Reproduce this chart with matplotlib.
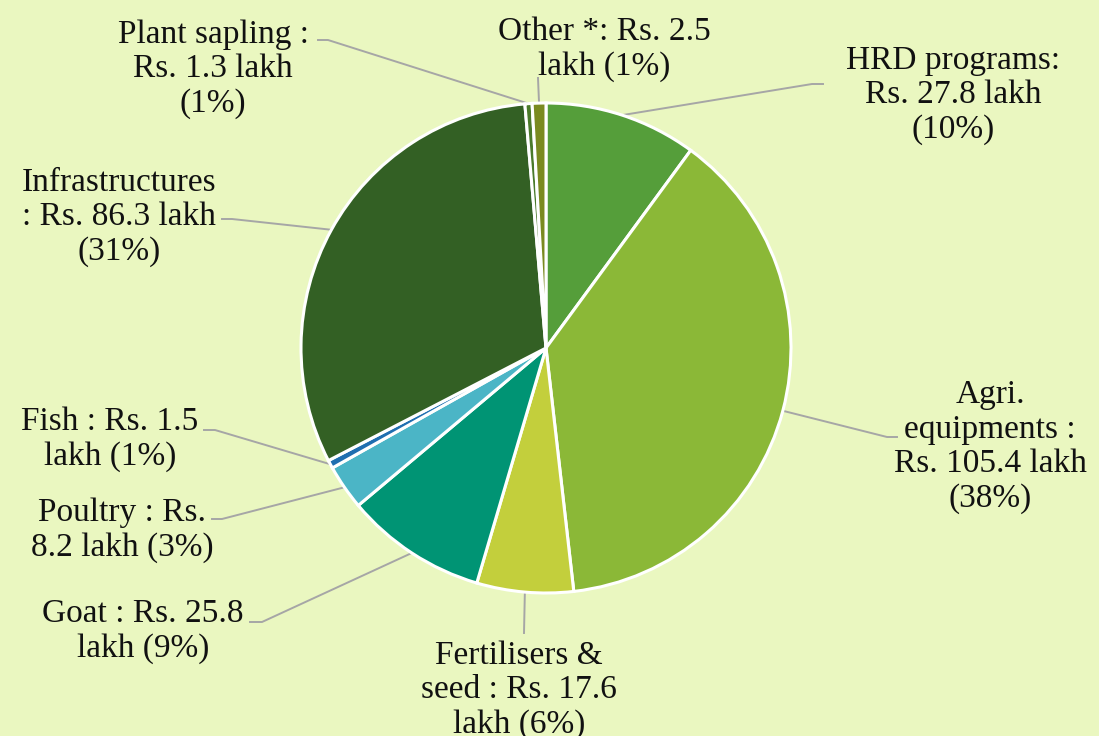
import numpy as np
import matplotlib.pyplot as plt

# --- data ---
categories = ['HRD programs:', 'Agri. equipments :', 'Fertilisers & seed :', 'Goat :',
              'Poultry :', 'Fish :', 'Infrastructures', 'Plant sapling :', 'Other *:']
values = [27.8, 105.4, 17.6, 25.8, 8.2, 1.5, 86.3, 1.3, 2.5]
labels = [
    'HRD programs:\nRs. 27.8 lakh\n(10%)',
    'Agri.\nequipments :\nRs. 105.4 lakh\n(38%)',
    'Fertilisers &\nseed : Rs. 17.6\nlakh (6%)',
    'Goat : Rs. 25.8\nlakh (9%)',
    'Poultry : Rs.\n8.2 lakh (3%)',
    'Fish : Rs. 1.5\nlakh (1%)',
    'Infrastructures\n: Rs. 86.3 lakh\n(31%)',
    'Plant sapling :\nRs. 1.3 lakh\n(1%)',
    'Other *: Rs. 2.5\nlakh (1%)',
]
colors = ['#559E3A', '#8BB837', '#C3CF3C', '#009474', '#4BB5C6',
          '#1F6EB0', '#336024', '#4A7A2A', '#7A8A20']

# label layout in image pixels: text centre, then leader line points (elbow, end)
text_pos = [(953, 95), (990, 447), (519, 690), (143, 631), (122, 530),
            (110, 439), (119, 217), (213, 69), (604, 49)]
leader = [
    [(812, 84), (823, 84)],
    [(887, 437), (897, 437)],
    [(524, 633)],
    [(262, 622), (250, 622)],
    [(222, 519), (212, 519)],
    [(215, 430), (204, 430)],
    [(232, 219), (222, 219)],
    [(328, 40), (318, 40)],
    [(538, 78)],
]

W, H = 1099, 736
cx, cy, R = 546, 348, 245


def px(p):
    return p[0], H - p[1]


fig = plt.figure(figsize=(W / 100, H / 100), dpi=100)
fig.patch.set_facecolor('#EAF7C0')
ax = fig.add_axes([0, 0, 1, 1])

wedges, _ = ax.pie(values, colors=colors, startangle=90, counterclock=False,
                   center=px((cx, cy)), radius=R, frame=True,
                   wedgeprops=dict(edgecolor='white', linewidth=2.2))
ax.set_xlim(0, W)
ax.set_ylim(0, H)
ax.set_aspect('equal')
ax.axis('off')

for w, lab, tp, pts in zip(wedges, labels, text_pos, leader):
    mid = np.deg2rad((w.theta1 + w.theta2) / 2)
    x0 = cx + R * np.cos(mid)
    y0 = (H - cy) + R * np.sin(mid)
    xs = [x0] + [p[0] for p in pts]
    ys = [y0] + [H - p[1] for p in pts]
    ax.plot(xs, ys, color='#A6A6A6', lw=1.4, zorder=0.5)
    ax.text(*px(tp), lab, ha='center', va='center', fontsize=24,
            family='Liberation Serif', color='#111111', linespacing=1.17)

fig.savefig('out.png', dpi=100, facecolor=fig.get_facecolor())
